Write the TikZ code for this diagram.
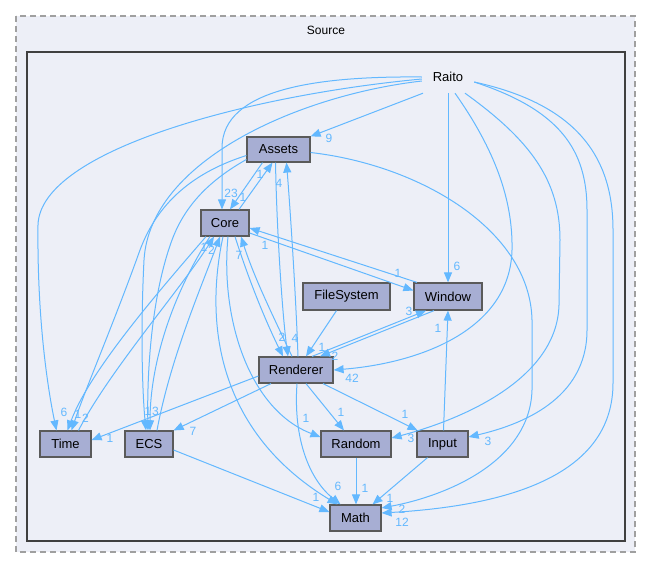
\documentclass[tikz,border=0pt]{standalone}
\usepackage{fontspec}
\setmainfont{Liberation Sans}
\usetikzlibrary{arrows.meta}
\definecolor{edgecol}{HTML}{63B8FF}
\definecolor{clbg}{HTML}{EDEFF7}
\definecolor{nodefill}{HTML}{A7AED3}
\definecolor{nodeline}{HTML}{5A5A5A}
\definecolor{outerline}{HTML}{A0A0A0}
\definecolor{innerline}{HTML}{404040}
\begin{document}
\begin{tikzpicture}[x=1pt,y=-1pt,
  dirbox/.style={draw=nodeline, line width=1.2pt, fill=nodefill, inner sep=0pt, minimum height=26pt, font=\fontsize{13}{15}\selectfont, text=black},
  dep/.style={draw=edgecol, line width=1pt, -{Triangle[length=10pt,width=8pt]}},
  lbl/.style={text=edgecol, font=\fontsize{12}{14}\selectfont, inner sep=0pt},
]
\fill[white] (0,0) rectangle (652,568);
\useasboundingbox (0,0) rectangle (652,568);
\draw[outerline, fill=clbg, line width=1.3pt, dash pattern=on 6pt off 4pt] (16,16) rectangle (635,552);
\node[font=\fontsize{12}{14}\selectfont, inner sep=0pt] (source) at (326,30) {Source};
\draw[innerline, fill=clbg, line width=2.2pt] (27,52) rectangle (625,541);

\node[inner sep=0pt, minimum width=52pt, minimum height=32pt, font=\fontsize{13}{15}\selectfont] (raito) at (448,77) {Raito};
\node[dirbox, minimum width=63pt, minimum height=25pt] (assets) at (278.5,149.5) {Assets};
\node[dirbox, minimum width=48pt] (core) at (225,223) {Core};
\node[dirbox, minimum width=87pt, minimum height=27pt] (filesystem) at (346.5,296.5) {FileSystem};
\node[dirbox, minimum width=68pt, minimum height=27pt] (window) at (448,296.5) {Window};
\node[dirbox, minimum width=74pt] (renderer) at (296,370) {Renderer};
\node[dirbox, minimum width=51pt] (time) at (65.5,444) {Time};
\node[dirbox, minimum width=48pt] (ecs) at (149,444) {ECS};
\node[dirbox, minimum width=70pt] (random) at (356,444) {Random};
\node[dirbox, minimum width=51pt] (input) at (442.5,444) {Input};
\node[dirbox, minimum width=51pt] (math) at (355.5,518) {Math};

% Raito
\draw[dep] ([xshift=-25pt]raito.south) -- (assets.north east);
\draw[dep] (raito.west) .. controls (320,76) and (222,88) .. (222,148) -- ([xshift=-3pt]core.north);
\draw[dep] ([yshift=-2pt]raito.west) .. controls (250,95) and (40,150) .. (38,225) .. controls (37,320) and (48,390) .. ([xshift=-9pt]time.north);
\draw[dep] ([yshift=-4pt]raito.west) .. controls (300,95) and (150,160) .. (144,260) .. controls (140,340) and (143,400) .. ([xshift=-3pt]ecs.north);
\draw[dep] (raito.south) -- (window.north);
\draw[dep] ([xshift=7pt]raito.south) .. controls (495,150) and (513,200) .. (512,250) .. controls (510,330) and (420,363) .. (renderer.east);
\draw[dep] ([xshift=17pt]raito.south) .. controls (530,140) and (560,180) .. (560,240) -- (559,305) .. controls (557,380) and (460,420) .. ([yshift=6pt]random.east);
\draw[dep] ([yshift=-5pt]raito.east) .. controls (560,110) and (587,150) .. (587,210) -- (587,330) .. controls (587,400) and (520,425) .. ([yshift=7pt]input.east);
\draw[dep] ([yshift=-5pt]raito.east) .. controls (580,105) and (613,160) .. (613,230) -- (613,383) .. controls (613,470) and (520,505) .. ([yshift=5pt]math.east);

% Assets
\draw[dep] ([yshift=-3pt]assets.east) .. controls (420,165) and (530,230) .. (532,320) -- (532,390) .. controls (530,460) and (450,495) .. ([yshift=10pt]math.east);
\draw[dep] ([xshift=-16pt]assets.south) -- ([xshift=5pt]core.north);
\draw[dep] ([xshift=14pt]core.north) -- ([xshift=-6pt]assets.south);
\draw[dep] ([xshift=-3pt]assets.south) .. controls (277,240) and (283,320) .. ([xshift=-8pt]renderer.north);
\draw[dep] ([xshift=2pt]renderer.north) .. controls (296,300) and (291,220) .. ([xshift=8pt]assets.south);
\draw[dep] ([yshift=-6pt]assets.west) .. controls (185,175) and (155,210) .. (140,250) .. controls (115,320) and (85,390) .. ([xshift=6pt]time.north);
\draw[dep] ([yshift=-10pt]assets.west) .. controls (210,180) and (185,205) .. (172,240) .. controls (150,300) and (147,380) .. ([xshift=-1pt]ecs.north);

% Core
\draw[dep] ([xshift=-31pt]window.north) -- ([yshift=-5pt]core.east);
\draw[dep] ([yshift=-10pt]core.east) -- ([yshift=6pt]window.west);
\draw[dep] ([xshift=10pt]core.south) .. controls (252,290) and (270,330) .. ([xshift=-13pt]renderer.north);
\draw[dep] ([xshift=-4pt]renderer.north) .. controls (275,320) and (255,280) .. ([xshift=16pt]core.south);
\draw[dep] ([xshift=-19pt]core.south) .. controls (160,290) and (90,370) .. ([xshift=2pt]time.north);
\draw[dep] ([xshift=13pt]time.north) .. controls (110,370) and (180,290) .. ([xshift=-11pt]core.south);
\draw[dep] ([xshift=-15pt]core.south) .. controls (175,290) and (150,360) .. ([xshift=1pt]ecs.north);
\draw[dep] ([xshift=8pt]ecs.north) .. controls (170,360) and (200,290) .. ([xshift=-5pt]core.south);
\draw[dep] ([xshift=-2pt]core.south) .. controls (205,320) and (215,430) .. ([xshift=-18pt]math.north);
\draw[dep] ([xshift=3pt]core.south) .. controls (220,320) and (250,410) .. ([yshift=7pt]random.west);

% Others
\draw[dep] ([xshift=-10pt]filesystem.south) -- ([xshift=10pt]renderer.north);
\draw[dep] ([xshift=16pt]renderer.north) -- ([xshift=-22pt]window.south);
\draw[dep] ([xshift=-14pt]window.south) -- ([xshift=24pt]renderer.north);
\draw[dep] ([xshift=1pt]input.north) -- (window.south);
\draw[dep] ([yshift=-6pt]renderer.west) -- ([yshift=4pt]time.east);
\draw[dep] ([xshift=-25pt]renderer.south) -- (ecs.north east);
\draw[dep] ([xshift=10pt]renderer.south) -- ([xshift=-12pt]random.north);
\draw[dep] ([xshift=27pt]renderer.south) -- ([xshift=-25pt]input.north);
\draw[dep] ([xshift=1pt]renderer.south) .. controls (293,440) and (310,480) .. ([xshift=-15pt]math.north);
\draw[dep] ([yshift=-6pt]ecs.east) -- ([yshift=6pt]math.west);
\draw[dep] (random.south) -- ([xshift=0.5pt]math.north);
\draw[dep] ([xshift=-15pt]input.south) -- ([xshift=17pt]math.north);

% labels
\node[lbl] (l01) at (329,138) {9};
\node[lbl] (l02) at (231,193) {23};
\node[lbl] (l03) at (64,412) {6};
\node[lbl] (l04) at (148,411) {1};
\node[lbl] (l05) at (155.5,411) {3};
\node[lbl] (l06) at (457,266) {6};
\node[lbl] (l07) at (352,378) {42};
\node[lbl] (l08) at (411,438) {3};
\node[lbl] (l09) at (488,441) {3};
\node[lbl] (l10) at (402,522) {12};
\node[lbl] (l11) at (402,509) {2};
\node[lbl] (l12) at (243,197) {1};
\node[lbl] (l13) at (260,174) {1};
\node[lbl] (l14) at (279,183) {4};
\node[lbl] (l15) at (295,338) {4};
\node[lbl] (l16) at (265,245) {1};
\node[lbl] (l17) at (398,273) {1};
\node[lbl] (l18) at (282,337) {2};
\node[lbl] (l19) at (239,255) {7};
\node[lbl] (l20) at (78,414) {1};
\node[lbl] (l21) at (85.5,418) {2};
\node[lbl] (l22) at (204,247) {1};
\node[lbl] (l23) at (211.5,250) {2};
\node[lbl] (l24) at (322,347) {1};
\node[lbl] (l25) at (409,311) {3};
\node[lbl] (l26) at (335,356) {2};
\node[lbl] (l27) at (438,328) {1};
\node[lbl] (l28) at (110,438) {1};
\node[lbl] (l29) at (193,431) {7};
\node[lbl] (l30) at (341,412) {1};
\node[lbl] (l31) at (405,414) {1};
\node[lbl] (l32) at (338,486) {6};
\node[lbl] (l33) at (306,418) {1};
\node[lbl] (l34) at (316,497) {1};
\node[lbl] (l35) at (365,488) {1};
\node[lbl] (l36) at (390,498) {1};
\end{tikzpicture}
\end{document}
